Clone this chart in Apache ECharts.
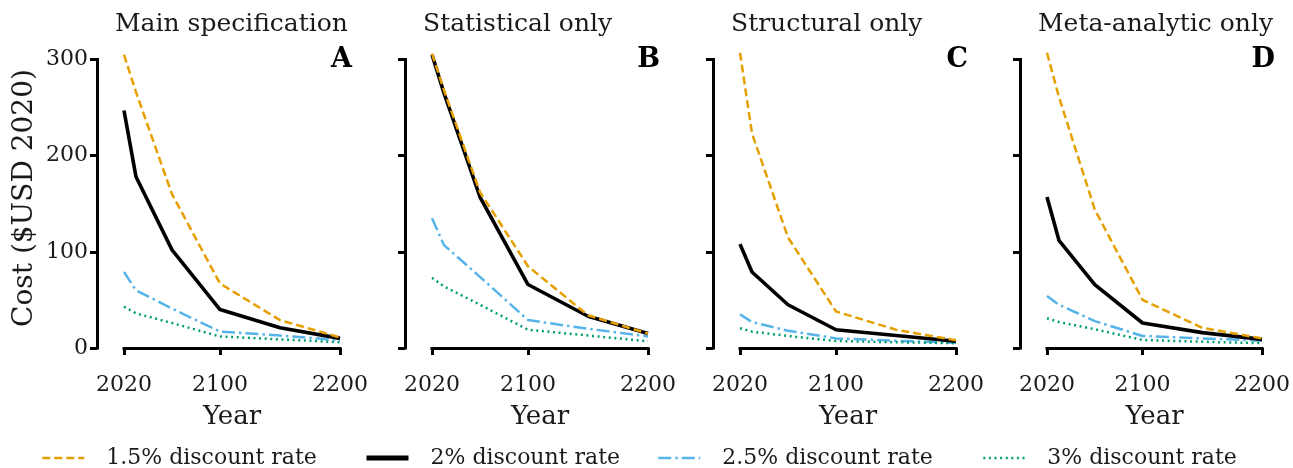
<!DOCTYPE html>
<html><head><meta charset="utf-8">
<script src="https://cdn.jsdelivr.net/npm/echarts@6/dist/echarts.min.js"></script>
<style>html,body{margin:0;padding:0;background:#fff}#c{width:1293px;height:468px}</style>
</head><body><div id="c"></div>
<script>
// ---- data ----
const years = [2020, 2030, 2060, 2100, 2150, 2200];
const xTicks = [2020, 2100, 2200];
const yTicks = [0, 100, 200, 300];
const panelTitles = ['Main specification', 'Statistical only', 'Structural only', 'Meta-analytic only'];
const panelLetters = ['A', 'B', 'C', 'D'];
const seriesNames = ['1.5% discount rate', '2% discount rate', '2.5% discount rate', '3% discount rate'];
// values per panel (A, B, C, D)
const rate15 = [
  [305, 266, 160, 67, 29, 11],
  [306, 268, 162, 85, 34, 15],
  [307, 223, 115, 38, 19, 8],
  [307, 261, 144, 50, 21, 10]
];
const rate20 = [
  [247, 178, 102, 40, 21, 10],
  [305, 265, 157, 66, 33, 15],
  [108, 79, 45, 19, 13, 7],
  [157, 112, 66, 26, 16, 9]
];
const rate25 = [
  [79, 60, 41, 17, 13, 8],
  [135, 107, 74, 29, 20, 12],
  [35, 27, 18, 10, 7.5, 5.5],
  [54, 45, 28, 12.5, 10, 7.5]
];
const rate30 = [
  [43, 36, 26, 12, 9, 6],
  [73, 64, 45, 19, 13, 7],
  [20.5, 17, 12.5, 7.3, 6, 5],
  [31, 27, 19.5, 8.3, 6.5, 5]
];

// ---- styling / layout ----
const FONT = "'DejaVu Serif', serif";
const TXT = '#1a1a1a';
const colors = ['#E69F00', '#000000', '#56B4E9', '#009E73'];
const widths = [2.5, 3.6, 2.5, 2.5];
const legendWidths = [2.6, 5, 2.6, 2.6];
const dashes = [[8, 4], 'solid', [13, 4, 2.5, 4], [2, 3.6]];
const zs = [4, 3, 2, 2];
const gridLeft = [124, 432, 740, 1047];
const gridW = 216, gridTop = 59.5, gridH = 288.5;

const allRates = [rate15, rate20, rate25, rate30];

const grids = gridLeft.map(l => ({ left: l, top: gridTop, width: gridW, height: gridH, containLabel: false }));
const xAxes = gridLeft.map((l, i) => ({
  type: 'value', gridIndex: i, min: 2020, max: 2200, offset: 13,
  axisLine: { show: true, lineStyle: { color: '#000', width: 3, cap: 'square' } },
  axisTick: { show: true, customValues: xTicks, length: 7, lineStyle: { color: '#000', width: 3 } },
  axisLabel: { customValues: xTicks, formatter: v => String(v), fontFamily: FONT, fontSize: 22, color: TXT, margin: 13 },
  splitLine: { show: false },
  name: 'Year', nameLocation: 'middle', nameGap: 43,
  nameTextStyle: { fontFamily: FONT, fontSize: 26, color: TXT }
}));
const yAxes = gridLeft.map((l, i) => ({
  type: 'value', gridIndex: i, min: 0, max: 300, interval: 100, offset: 27,
  axisLine: { show: true, lineStyle: { color: '#000', width: 3, cap: 'square' } },
  axisTick: { show: true, customValues: yTicks, length: 7, lineStyle: { color: '#000', width: 3 } },
  axisLabel: { show: i === 0, customValues: yTicks, formatter: v => String(v), fontFamily: FONT, fontSize: 22, color: TXT, margin: 9 },
  splitLine: { show: false },
  name: '', nameLocation: 'middle'
}));

const series = [];
for (let p = 0; p < 4; p++) {
  for (let s = 0; s < 4; s++) {
    series.push({
      type: 'line', name: seriesNames[s], xAxisIndex: p, yAxisIndex: p,
      data: years.map((y, k) => [y, allRates[s][p][k]]),
      symbol: 'none', showSymbol: false, clip: false, z: zs[s], silent: true,
      lineStyle: { color: colors[s], width: widths[s], type: dashes[s] },
      itemStyle: { color: colors[s] }
    });
  }
}

const legendLeft = [36, 359, 652, 977];
const legends = seriesNames.map((n, i) => ({
  data: [n], left: legendLeft[i], top: 442, itemWidth: 42, itemHeight: 14,
  selectedMode: false,
  itemStyle: { opacity: 0 },
  lineStyle: { width: legendWidths[i] },
  textStyle: { fontFamily: FONT, fontSize: 22, color: TXT, padding: [0, 0, 0, 17] }
}));

const graphics = [];
gridLeft.forEach((l, i) => {
  graphics.push({ type: 'text', x: l - 9, y: 12, silent: true,
    style: { text: panelTitles[i], font: "25px 'DejaVu Serif'", fill: TXT, textAlign: 'left', textVerticalAlign: 'top' } });
  graphics.push({ type: 'text', x: l + gridW + 12, y: 46, silent: true,
    style: { text: panelLetters[i], font: "bold 27px 'DejaVu Serif'", fill: '#000', textAlign: 'right', textVerticalAlign: 'top' } });
});
// y-axis title
graphics.push({ type: 'text', x: 25, y: 198, rotation: Math.PI / 2, silent: true,
  style: { text: 'Cost ($USD 2020)', font: "28px 'DejaVu Serif'", fill: TXT, textAlign: 'center', textVerticalAlign: 'middle' } });

const chart = echarts.init(document.getElementById('c'), null, { renderer: 'canvas' });
chart.setOption({
  animation: false,
  backgroundColor: '#fff',
  grid: grids, xAxis: xAxes, yAxis: yAxes, series: series,
  legend: legends, graphic: graphics
});
</script></body></html>
